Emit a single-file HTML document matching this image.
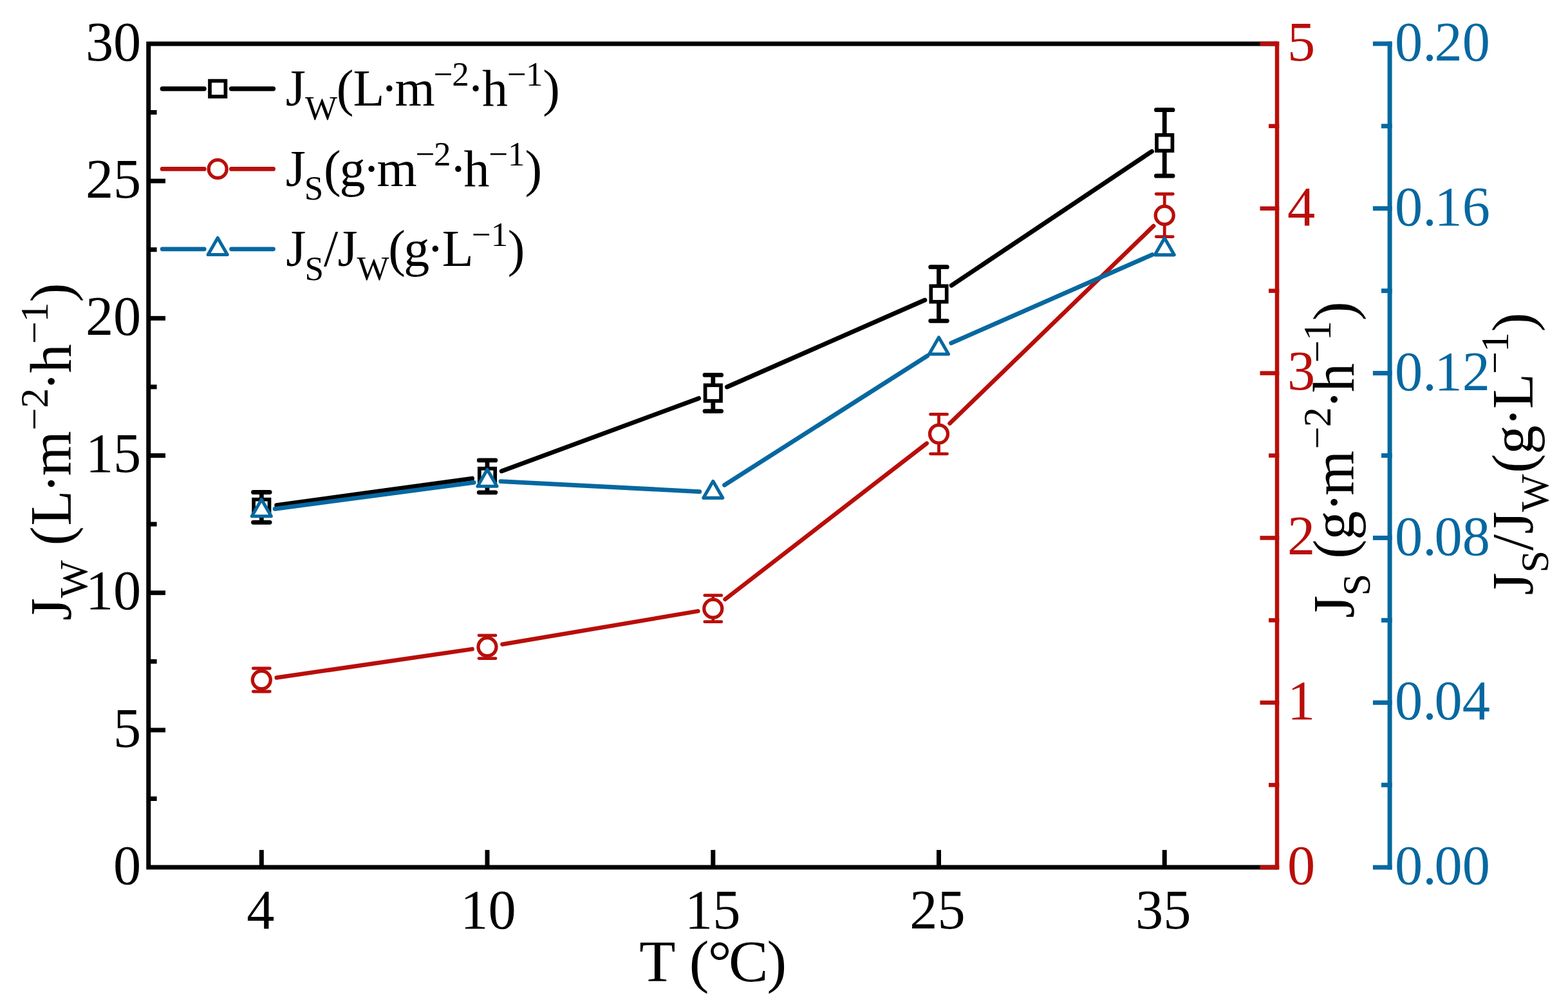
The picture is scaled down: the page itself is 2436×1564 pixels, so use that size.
<!DOCTYPE html>
<html><head><meta charset="utf-8"><title>chart</title>
<style>html,body{margin:0;padding:0;background:#fff;overflow:hidden}svg{display:block}</style>
</head><body>
<svg width="2436" height="1564" viewBox="0 0 2436 1564" font-family="'Liberation Serif','Times New Roman',serif">
<rect width="2436" height="1564" fill="#fff"/>
<path d="M1984.0,67.9 H230.75 V1347.1 H1984.0" fill="none" stroke="#000000" stroke-width="7.0" stroke-linejoin="miter" stroke-linecap="butt"/>
<line x1="230.75" y1="1240.50" x2="243.6" y2="1240.50" stroke="#000000" stroke-width="7.0"/>
<line x1="230.75" y1="1133.90" x2="257" y2="1133.90" stroke="#000000" stroke-width="7.0"/>
<line x1="230.75" y1="1027.30" x2="243.6" y2="1027.30" stroke="#000000" stroke-width="7.0"/>
<line x1="230.75" y1="920.70" x2="257" y2="920.70" stroke="#000000" stroke-width="7.0"/>
<line x1="230.75" y1="814.10" x2="243.6" y2="814.10" stroke="#000000" stroke-width="7.0"/>
<line x1="230.75" y1="707.50" x2="257" y2="707.50" stroke="#000000" stroke-width="7.0"/>
<line x1="230.75" y1="600.90" x2="243.6" y2="600.90" stroke="#000000" stroke-width="7.0"/>
<line x1="230.75" y1="494.30" x2="257" y2="494.30" stroke="#000000" stroke-width="7.0"/>
<line x1="230.75" y1="387.70" x2="243.6" y2="387.70" stroke="#000000" stroke-width="7.0"/>
<line x1="230.75" y1="281.10" x2="257" y2="281.10" stroke="#000000" stroke-width="7.0"/>
<line x1="230.75" y1="174.50" x2="243.6" y2="174.50" stroke="#000000" stroke-width="7.0"/>
<line x1="406.3" y1="1347.1" x2="406.3" y2="1320.1" stroke="#000000" stroke-width="7.0"/>
<line x1="757.0" y1="1347.1" x2="757.0" y2="1320.1" stroke="#000000" stroke-width="7.0"/>
<line x1="1107.8" y1="1347.1" x2="1107.8" y2="1320.1" stroke="#000000" stroke-width="7.0"/>
<line x1="1458.5" y1="1347.1" x2="1458.5" y2="1320.1" stroke="#000000" stroke-width="7.0"/>
<line x1="1809.2" y1="1347.1" x2="1809.2" y2="1320.1" stroke="#000000" stroke-width="7.0"/>
<line x1="1984.0" y1="64.5" x2="1984.0" y2="1350.5" stroke="#B90E0A" stroke-width="6.5"/>
<line x1="1987.25" y1="1347.10" x2="1957.5" y2="1347.10" stroke="#B90E0A" stroke-width="6.5"/>
<line x1="1987.25" y1="1219.18" x2="1971.0" y2="1219.18" stroke="#B90E0A" stroke-width="6.5"/>
<line x1="1987.25" y1="1091.26" x2="1957.5" y2="1091.26" stroke="#B90E0A" stroke-width="6.5"/>
<line x1="1987.25" y1="963.34" x2="1971.0" y2="963.34" stroke="#B90E0A" stroke-width="6.5"/>
<line x1="1987.25" y1="835.42" x2="1957.5" y2="835.42" stroke="#B90E0A" stroke-width="6.5"/>
<line x1="1987.25" y1="707.50" x2="1971.0" y2="707.50" stroke="#B90E0A" stroke-width="6.5"/>
<line x1="1987.25" y1="579.58" x2="1957.5" y2="579.58" stroke="#B90E0A" stroke-width="6.5"/>
<line x1="1987.25" y1="451.66" x2="1971.0" y2="451.66" stroke="#B90E0A" stroke-width="6.5"/>
<line x1="1987.25" y1="323.74" x2="1957.5" y2="323.74" stroke="#B90E0A" stroke-width="6.5"/>
<line x1="1987.25" y1="195.82" x2="1971.0" y2="195.82" stroke="#B90E0A" stroke-width="6.5"/>
<line x1="1987.25" y1="67.90" x2="1957.5" y2="67.90" stroke="#B90E0A" stroke-width="6.5"/>
<line x1="2159.1" y1="64.5" x2="2159.1" y2="1350.6" stroke="#0668A0" stroke-width="7.0"/>
<line x1="2162.6" y1="1347.10" x2="2132.9" y2="1347.10" stroke="#0668A0" stroke-width="7.0"/>
<line x1="2162.6" y1="1219.18" x2="2146.0" y2="1219.18" stroke="#0668A0" stroke-width="7.0"/>
<line x1="2162.6" y1="1091.26" x2="2132.9" y2="1091.26" stroke="#0668A0" stroke-width="7.0"/>
<line x1="2162.6" y1="963.34" x2="2146.0" y2="963.34" stroke="#0668A0" stroke-width="7.0"/>
<line x1="2162.6" y1="835.42" x2="2132.9" y2="835.42" stroke="#0668A0" stroke-width="7.0"/>
<line x1="2162.6" y1="707.50" x2="2146.0" y2="707.50" stroke="#0668A0" stroke-width="7.0"/>
<line x1="2162.6" y1="579.58" x2="2132.9" y2="579.58" stroke="#0668A0" stroke-width="7.0"/>
<line x1="2162.6" y1="451.66" x2="2146.0" y2="451.66" stroke="#0668A0" stroke-width="7.0"/>
<line x1="2162.6" y1="323.74" x2="2132.9" y2="323.74" stroke="#0668A0" stroke-width="7.0"/>
<line x1="2162.6" y1="195.82" x2="2146.0" y2="195.82" stroke="#0668A0" stroke-width="7.0"/>
<line x1="2162.6" y1="67.90" x2="2132.9" y2="67.90" stroke="#0668A0" stroke-width="7.0"/>
<text x="219.3" y="1372.70" font-size="86.4" text-anchor="end">0</text>
<text x="219.3" y="1159.50" font-size="86.4" text-anchor="end">5</text>
<text x="219.3" y="946.30" font-size="86.4" text-anchor="end">10</text>
<text x="219.3" y="733.10" font-size="86.4" text-anchor="end">15</text>
<text x="219.3" y="519.90" font-size="86.4" text-anchor="end">20</text>
<text x="219.3" y="306.70" font-size="86.4" text-anchor="end">25</text>
<text x="219.3" y="93.50" font-size="86.4" text-anchor="end">30</text>
<text x="404.8" y="1442.2" font-size="86.4" text-anchor="middle">4</text>
<text x="758.5" y="1442.2" font-size="86.4" text-anchor="middle">10</text>
<text x="1107.3" y="1442.2" font-size="86.4" text-anchor="middle">15</text>
<text x="1456.5" y="1442.2" font-size="86.4" text-anchor="middle">25</text>
<text x="1807.2" y="1442.2" font-size="86.4" text-anchor="middle">35</text>
<text x="2000" y="1372.90" font-size="86.4" fill="#B90E0A">0</text>
<text x="2000" y="1117.06" font-size="86.4" fill="#B90E0A">1</text>
<text x="2000" y="861.22" font-size="86.4" fill="#B90E0A">2</text>
<text x="2000" y="605.38" font-size="86.4" fill="#B90E0A">3</text>
<text x="2000" y="349.54" font-size="86.4" fill="#B90E0A">4</text>
<text x="2000" y="93.70" font-size="86.4" fill="#B90E0A">5</text>
<text x="2167" y="1373.30" font-size="86.4" fill="#0668A0">0.<tspan dx="-3.2">00</tspan></text>
<text x="2167" y="1117.46" font-size="86.4" fill="#0668A0">0.<tspan dx="-3.2">04</tspan></text>
<text x="2167" y="861.62" font-size="86.4" fill="#0668A0">0.<tspan dx="-3.2">08</tspan></text>
<text x="2167" y="605.78" font-size="86.4" fill="#0668A0">0.<tspan dx="-3.2">12</tspan></text>
<text x="2167" y="349.94" font-size="86.4" fill="#0668A0">0.<tspan dx="-3.2">16</tspan></text>
<text x="2167" y="94.10" font-size="86.4" fill="#0668A0">0.<tspan dx="-3.2">20</tspan></text>
<text><tspan x="993.13" y="1524.00" font-size="92">T</tspan><tspan x="1070.64" y="1524.00" font-size="92">(</tspan><tspan x="1099.80" y="1524.00" font-size="92">°</tspan><tspan x="1132.02" y="1524.00" font-size="92">C</tspan><tspan x="1191.42" y="1524.00" font-size="92">)</tspan></text>
<text transform="translate(0,1000.0) rotate(-90)"><tspan x="36.14" y="110.00" font-size="90">J</tspan><tspan x="71.22" y="134.60" font-size="62">W</tspan><tspan x="152.69" y="110.00" font-size="90">(</tspan><tspan x="183.47" y="110.00" font-size="90">L</tspan><tspan x="234.11" y="110.00" font-size="90">·</tspan><tspan x="260.66" y="110.00" font-size="90">m</tspan><tspan x="331.54" y="73.50" font-size="62">−</tspan><tspan x="366.15" y="73.50" font-size="62">2</tspan><tspan x="392.81" y="110.00" font-size="90">·</tspan><tspan x="420.80" y="110.00" font-size="90">h</tspan><tspan x="465.69" y="73.50" font-size="62">−</tspan><tspan x="499.59" y="73.50" font-size="62">1</tspan><tspan x="530.59" y="110.00" font-size="90">)</tspan></text>
<text transform="translate(0,1000.0) rotate(-90)"><tspan x="39.99" y="2103.00" font-size="90">J</tspan><tspan x="74.46" y="2128.00" font-size="62">S</tspan><tspan x="132.39" y="2103.00" font-size="90">(</tspan><tspan x="161.52" y="2103.00" font-size="90">g</tspan><tspan x="205.01" y="2103.00" font-size="90">·</tspan><tspan x="230.26" y="2103.00" font-size="90">m</tspan><tspan x="302.64" y="2066.50" font-size="62">−</tspan><tspan x="336.65" y="2066.50" font-size="62">2</tspan><tspan x="364.71" y="2103.00" font-size="90">·</tspan><tspan x="391.10" y="2103.00" font-size="90">h</tspan><tspan x="436.44" y="2066.50" font-size="62">−</tspan><tspan x="470.89" y="2066.50" font-size="62">1</tspan><tspan x="501.89" y="2103.00" font-size="90">)</tspan></text>
<text transform="translate(0,1000.0) rotate(-90)"><tspan x="75.44" y="2381.00" font-size="90">J</tspan><tspan x="110.41" y="2404.70" font-size="62">S</tspan><tspan x="144.95" y="2381.00" font-size="90">/</tspan><tspan x="170.59" y="2381.00" font-size="90">J</tspan><tspan x="205.02" y="2404.70" font-size="62">W</tspan><tspan x="265.39" y="2381.00" font-size="90">(</tspan><tspan x="294.47" y="2381.00" font-size="90">g</tspan><tspan x="337.51" y="2381.00" font-size="90">·</tspan><tspan x="364.97" y="2381.00" font-size="90">L</tspan><tspan x="419.04" y="2343.40" font-size="62">−</tspan><tspan x="453.14" y="2343.40" font-size="62">1</tspan><tspan x="484.59" y="2381.00" font-size="90">)</tspan></text>
<line x1="429.78" y1="784.69" x2="733.52" y2="743.11" stroke="#000000" stroke-width="7" stroke-linecap="round"/><line x1="779.24" y1="731.70" x2="1085.56" y2="618.70" stroke="#000000" stroke-width="7" stroke-linecap="round"/><line x1="1129.50" y1="600.97" x2="1436.80" y2="466.03" stroke="#000000" stroke-width="7" stroke-linecap="round"/><line x1="1478.20" y1="443.32" x2="1789.50" y2="235.08" stroke="#000000" stroke-width="7" stroke-linecap="round"/>
<line x1="406.3" y1="764.50" x2="406.3" y2="773.90" stroke="#000000" stroke-width="6.8"/><line x1="406.3" y1="801.90" x2="406.3" y2="811.30" stroke="#000000" stroke-width="6.8"/><line x1="393.50" y1="764.50" x2="419.10" y2="764.50" stroke="#000000" stroke-width="6.8" stroke-linecap="round"/><line x1="393.50" y1="811.30" x2="419.10" y2="811.30" stroke="#000000" stroke-width="6.8" stroke-linecap="round"/>
<rect x="394.10" y="775.70" width="24.40" height="24.40" fill="#fff" stroke="#000000" stroke-width="5.7"/>
<line x1="757.0" y1="714.95" x2="757.0" y2="725.90" stroke="#000000" stroke-width="6.8"/><line x1="757.0" y1="753.90" x2="757.0" y2="764.85" stroke="#000000" stroke-width="6.8"/><line x1="744.20" y1="714.95" x2="769.80" y2="714.95" stroke="#000000" stroke-width="6.8" stroke-linecap="round"/><line x1="744.20" y1="764.85" x2="769.80" y2="764.85" stroke="#000000" stroke-width="6.8" stroke-linecap="round"/>
<rect x="744.80" y="727.70" width="24.40" height="24.40" fill="#fff" stroke="#000000" stroke-width="5.7"/>
<line x1="1107.8" y1="582.45" x2="1107.8" y2="596.50" stroke="#000000" stroke-width="6.8"/><line x1="1107.8" y1="624.50" x2="1107.8" y2="638.55" stroke="#000000" stroke-width="6.8"/><line x1="1095.00" y1="582.45" x2="1120.60" y2="582.45" stroke="#000000" stroke-width="6.8" stroke-linecap="round"/><line x1="1095.00" y1="638.55" x2="1120.60" y2="638.55" stroke="#000000" stroke-width="6.8" stroke-linecap="round"/>
<rect x="1095.60" y="598.30" width="24.40" height="24.40" fill="#fff" stroke="#000000" stroke-width="5.7"/>
<line x1="1458.5" y1="414.70" x2="1458.5" y2="442.50" stroke="#000000" stroke-width="6.8"/><line x1="1458.5" y1="470.50" x2="1458.5" y2="498.30" stroke="#000000" stroke-width="6.8"/><line x1="1445.70" y1="414.70" x2="1471.30" y2="414.70" stroke="#000000" stroke-width="6.8" stroke-linecap="round"/><line x1="1445.70" y1="498.30" x2="1471.30" y2="498.30" stroke="#000000" stroke-width="6.8" stroke-linecap="round"/>
<rect x="1446.30" y="444.30" width="24.40" height="24.40" fill="#fff" stroke="#000000" stroke-width="5.7"/>
<line x1="1809.2" y1="170.65" x2="1809.2" y2="207.90" stroke="#000000" stroke-width="6.8"/><line x1="1809.2" y1="235.90" x2="1809.2" y2="273.15" stroke="#000000" stroke-width="6.8"/><line x1="1796.40" y1="170.65" x2="1822.00" y2="170.65" stroke="#000000" stroke-width="6.8" stroke-linecap="round"/><line x1="1796.40" y1="273.15" x2="1822.00" y2="273.15" stroke="#000000" stroke-width="6.8" stroke-linecap="round"/>
<rect x="1797.00" y="209.70" width="24.40" height="24.40" fill="#fff" stroke="#000000" stroke-width="5.7"/>
<line x1="429.75" y1="1052.57" x2="733.55" y2="1008.13" stroke="#B90E0A" stroke-width="6.5" stroke-linecap="round"/><line x1="780.37" y1="1000.74" x2="1084.43" y2="949.16" stroke="#B90E0A" stroke-width="6.5" stroke-linecap="round"/><line x1="1126.55" y1="930.71" x2="1439.75" y2="688.59" stroke="#B90E0A" stroke-width="6.5" stroke-linecap="round"/><line x1="1475.52" y1="657.61" x2="1792.18" y2="350.89" stroke="#B90E0A" stroke-width="6.5" stroke-linecap="round"/>
<line x1="406.3" y1="1038.00" x2="406.3" y2="1042.00" stroke="#B90E0A" stroke-width="4.8"/><line x1="406.3" y1="1070.00" x2="406.3" y2="1074.00" stroke="#B90E0A" stroke-width="4.8"/><line x1="393.30" y1="1038.00" x2="419.30" y2="1038.00" stroke="#B90E0A" stroke-width="4.8" stroke-linecap="round"/><line x1="393.30" y1="1074.00" x2="419.30" y2="1074.00" stroke="#B90E0A" stroke-width="4.8" stroke-linecap="round"/>
<circle cx="406.30" cy="1056.00" r="14.0" fill="#fff" stroke="#B90E0A" stroke-width="5.3"/>
<line x1="757.0" y1="986.80" x2="757.0" y2="990.70" stroke="#B90E0A" stroke-width="4.8"/><line x1="757.0" y1="1018.70" x2="757.0" y2="1022.60" stroke="#B90E0A" stroke-width="4.8"/><line x1="744.00" y1="986.80" x2="770.00" y2="986.80" stroke="#B90E0A" stroke-width="4.8" stroke-linecap="round"/><line x1="744.00" y1="1022.60" x2="770.00" y2="1022.60" stroke="#B90E0A" stroke-width="4.8" stroke-linecap="round"/>
<circle cx="757.00" cy="1004.70" r="14.0" fill="#fff" stroke="#B90E0A" stroke-width="5.3"/>
<line x1="1107.8" y1="924.70" x2="1107.8" y2="931.20" stroke="#B90E0A" stroke-width="4.8"/><line x1="1107.8" y1="959.20" x2="1107.8" y2="965.70" stroke="#B90E0A" stroke-width="4.8"/><line x1="1094.80" y1="924.70" x2="1120.80" y2="924.70" stroke="#B90E0A" stroke-width="4.8" stroke-linecap="round"/><line x1="1094.80" y1="965.70" x2="1120.80" y2="965.70" stroke="#B90E0A" stroke-width="4.8" stroke-linecap="round"/>
<circle cx="1107.80" cy="945.20" r="14.0" fill="#fff" stroke="#B90E0A" stroke-width="5.3"/>
<line x1="1458.5" y1="643.40" x2="1458.5" y2="660.10" stroke="#B90E0A" stroke-width="4.8"/><line x1="1458.5" y1="688.10" x2="1458.5" y2="704.80" stroke="#B90E0A" stroke-width="4.8"/><line x1="1445.50" y1="643.40" x2="1471.50" y2="643.40" stroke="#B90E0A" stroke-width="4.8" stroke-linecap="round"/><line x1="1445.50" y1="704.80" x2="1471.50" y2="704.80" stroke="#B90E0A" stroke-width="4.8" stroke-linecap="round"/>
<circle cx="1458.50" cy="674.10" r="14.0" fill="#fff" stroke="#B90E0A" stroke-width="5.3"/>
<line x1="1809.2" y1="301.25" x2="1809.2" y2="320.40" stroke="#B90E0A" stroke-width="4.8"/><line x1="1809.2" y1="348.40" x2="1809.2" y2="367.55" stroke="#B90E0A" stroke-width="4.8"/><line x1="1796.20" y1="301.25" x2="1822.20" y2="301.25" stroke="#B90E0A" stroke-width="4.8" stroke-linecap="round"/><line x1="1796.20" y1="367.55" x2="1822.20" y2="367.55" stroke="#B90E0A" stroke-width="4.8" stroke-linecap="round"/>
<circle cx="1809.20" cy="334.40" r="14.0" fill="#fff" stroke="#B90E0A" stroke-width="5.3"/>
<line x1="427.12" y1="790.34" x2="736.18" y2="749.36" stroke="#0668A0" stroke-width="6.8" stroke-linecap="round"/><line x1="777.97" y1="747.68" x2="1086.83" y2="763.57" stroke="#0668A0" stroke-width="6.8" stroke-linecap="round"/><line x1="1125.51" y1="753.37" x2="1440.79" y2="552.58" stroke="#0668A0" stroke-width="6.8" stroke-linecap="round"/><line x1="1477.72" y1="532.85" x2="1789.98" y2="395.60" stroke="#0668A0" stroke-width="6.8" stroke-linecap="round"/>
<path d="M406.30,775.80 L421.30,801.80 L391.30,801.80 Z" fill="#fff" stroke="#0668A0" stroke-width="5.1" stroke-linejoin="round"/>
<path d="M757.00,729.30 L772.00,755.30 L742.00,755.30 Z" fill="#fff" stroke="#0668A0" stroke-width="5.1" stroke-linejoin="round"/>
<path d="M1107.80,747.35 L1122.80,773.35 L1092.80,773.35 Z" fill="#fff" stroke="#0668A0" stroke-width="5.1" stroke-linejoin="round"/>
<path d="M1458.50,524.00 L1473.50,550.00 L1443.50,550.00 Z" fill="#fff" stroke="#0668A0" stroke-width="5.1" stroke-linejoin="round"/>
<path d="M1809.20,369.85 L1824.20,395.85 L1794.20,395.85 Z" fill="#fff" stroke="#0668A0" stroke-width="5.1" stroke-linejoin="round"/>
<line x1="252.2" y1="137.8" x2="317.2" y2="137.8" stroke="#000000" stroke-width="7.2" stroke-linecap="round"/>
<line x1="359.5" y1="137.8" x2="424.5" y2="137.8" stroke="#000000" stroke-width="7.2" stroke-linecap="round"/>
<line x1="252.2" y1="262.4" x2="317.2" y2="262.4" stroke="#B90E0A" stroke-width="6.9" stroke-linecap="round"/>
<line x1="359.5" y1="262.4" x2="424.5" y2="262.4" stroke="#B90E0A" stroke-width="6.9" stroke-linecap="round"/>
<line x1="252.2" y1="386.8" x2="317.2" y2="386.8" stroke="#0668A0" stroke-width="6.8" stroke-linecap="round"/>
<line x1="359.5" y1="386.8" x2="424.5" y2="386.8" stroke="#0668A0" stroke-width="6.8" stroke-linecap="round"/>
<rect x="326.00" y="125.60" width="24.40" height="24.40" fill="#fff" stroke="#000000" stroke-width="5.7"/>
<circle cx="338.20" cy="262.40" r="14.0" fill="#fff" stroke="#B90E0A" stroke-width="5.3"/>
<path d="M338.20,369.50 L353.20,395.50 L323.20,395.50 Z" fill="#fff" stroke="#0668A0" stroke-width="5.1" stroke-linejoin="round"/>
<text><tspan x="443.73" y="164.40" font-size="80">J</tspan><tspan x="474.01" y="185.60" font-size="53">W</tspan><tspan x="522.71" y="164.40" font-size="80">(</tspan><tspan x="548.57" y="164.40" font-size="80">L</tspan><tspan x="591.48" y="164.40" font-size="80">·</tspan><tspan x="613.57" y="164.40" font-size="80">m</tspan><tspan x="673.83" y="132.60" font-size="53">−</tspan><tspan x="702.15" y="132.60" font-size="53">2</tspan><tspan x="725.78" y="164.40" font-size="80">·</tspan><tspan x="748.89" y="164.40" font-size="80">h</tspan><tspan x="787.93" y="132.60" font-size="53">−</tspan><tspan x="817.01" y="132.60" font-size="53">1</tspan><tspan x="843.25" y="164.40" font-size="80">)</tspan></text>
<text><tspan x="443.78" y="288.90" font-size="80">J</tspan><tspan x="472.73" y="310.10" font-size="53">S</tspan><tspan x="502.91" y="288.90" font-size="80">(</tspan><tspan x="527.49" y="288.90" font-size="80">g</tspan><tspan x="563.78" y="288.90" font-size="80">·</tspan><tspan x="585.52" y="288.90" font-size="80">m</tspan><tspan x="645.68" y="257.10" font-size="53">−</tspan><tspan x="674.00" y="257.10" font-size="53">2</tspan><tspan x="698.58" y="288.90" font-size="80">·</tspan><tspan x="720.44" y="288.90" font-size="80">h</tspan><tspan x="759.48" y="257.10" font-size="53">−</tspan><tspan x="788.91" y="257.10" font-size="53">1</tspan><tspan x="815.45" y="288.90" font-size="80">)</tspan></text>
<text><tspan x="444.18" y="413.40" font-size="80">J</tspan><tspan x="473.48" y="434.60" font-size="53">S</tspan><tspan x="503.04" y="413.40" font-size="80">/</tspan><tspan x="524.43" y="413.40" font-size="80">J</tspan><tspan x="554.56" y="434.60" font-size="53">W</tspan><tspan x="603.31" y="413.40" font-size="80">(</tspan><tspan x="627.34" y="413.40" font-size="80">g</tspan><tspan x="662.98" y="413.40" font-size="80">·</tspan><tspan x="686.82" y="413.40" font-size="80">L</tspan><tspan x="732.98" y="381.60" font-size="53">−</tspan><tspan x="762.66" y="381.60" font-size="53">1</tspan><tspan x="788.80" y="413.40" font-size="80">)</tspan></text>
</svg>
</body></html>
